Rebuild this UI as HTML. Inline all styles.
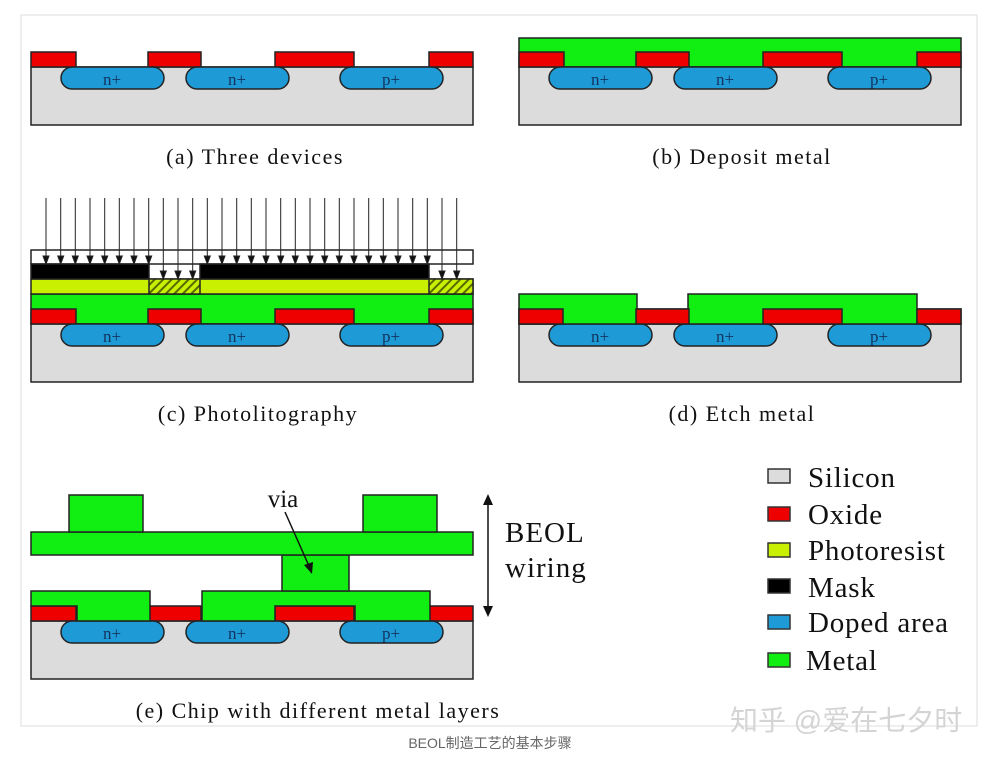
<!DOCTYPE html>
<html><head><meta charset="utf-8"><style>
html,body{margin:0;padding:0;background:#fff;}
svg{display:block;}
text{font-family:"Liberation Serif",serif;fill:#111;}
.cap{font-size:22px;letter-spacing:1.5px;}
</style></head><body>
<svg width="997" height="762" viewBox="0 0 997 762" xmlns="http://www.w3.org/2000/svg">
<defs>
<pattern id="h" width="6" height="6" patternUnits="userSpaceOnUse" patternTransform="rotate(45)">
<rect width="6" height="6" fill="#c8f000"/><rect width="2" height="6" fill="#556b00"/>
</pattern>
<g id="base" stroke="#222" stroke-width="1.5">
<rect x="31" y="67" width="442" height="58" fill="#dcdcdc"/>
<rect x="31" y="52" width="45" height="15" fill="#ee0000"/>
<rect x="148" y="52" width="53" height="15" fill="#ee0000"/>
<rect x="275" y="52" width="79" height="15" fill="#ee0000"/>
<rect x="429" y="52" width="44" height="15" fill="#ee0000"/>
<rect x="61" y="67" width="103" height="22" rx="11" fill="#1e9ad6"/>
<rect x="186" y="67" width="103" height="22" rx="11" fill="#1e9ad6"/>
<rect x="340" y="67" width="103" height="22" rx="11" fill="#1e9ad6"/>
<g stroke="none" font-size="17" text-anchor="middle">
<text x="112" y="85" style="fill:#14345e">n+</text>
<text x="237" y="85" style="fill:#14345e">n+</text>
<text x="391" y="85" style="fill:#14345e">p+</text>
</g>
</g>
</defs>
<rect x="21" y="15" width="956" height="711" fill="none" stroke="#ddd" stroke-width="1"/>

<use href="#base"/>
<text class="cap" x="255" y="164" text-anchor="middle">(a) Three devices</text>

<g transform="translate(488,0)">
<rect x="31" y="38" width="442" height="29" fill="#11ee11" stroke="#222" stroke-width="1.5"/>
<use href="#base"/>
</g>
<text class="cap" x="742" y="164" text-anchor="middle">(b) Deposit metal</text>

<g transform="translate(0,257)">
<rect x="31" y="37" width="442" height="30" fill="#11ee11" stroke="#222" stroke-width="1.5"/>
<use href="#base"/>
</g>
<g stroke="#222" stroke-width="1.5">
<rect x="31" y="279" width="442" height="15" fill="#c8f000"/>
<rect x="149" y="279" width="51" height="15" fill="url(#h)"/>
<rect x="429" y="279" width="44" height="15" fill="url(#h)"/>
<rect x="31" y="250" width="442" height="14" fill="#fff"/>
<rect x="31" y="264" width="118" height="15" fill="#000"/>
<rect x="200" y="264" width="229" height="15" fill="#000"/>
</g>
<text class="cap" x="258" y="421" text-anchor="middle">(c) Photolitography</text>

<g transform="translate(488,257)">
<use href="#base"/>
<rect x="31" y="37" width="118" height="30" fill="#11ee11" stroke="#222" stroke-width="1.5"/>
<rect x="200" y="37" width="229" height="30" fill="#11ee11" stroke="#222" stroke-width="1.5"/>
<rect x="31" y="52" width="44" height="15" fill="#ee0000" stroke="#222" stroke-width="1.5"/>
<rect x="148" y="52" width="53" height="15" fill="#ee0000" stroke="#222" stroke-width="1.5"/>
<rect x="275" y="52" width="79" height="15" fill="#ee0000" stroke="#222" stroke-width="1.5"/>
<rect x="429" y="52" width="44" height="15" fill="#ee0000" stroke="#222" stroke-width="1.5"/>
<rect x="76" y="51" width="71" height="15" fill="#11ee11"/>
<rect x="202" y="51" width="72" height="15" fill="#11ee11"/>
<rect x="355" y="51" width="73" height="15" fill="#11ee11"/>
</g>
<text class="cap" x="742" y="421" text-anchor="middle">(d) Etch metal</text>

<g transform="translate(0,554)">
<use href="#base"/>
</g>
<g stroke="#222" stroke-width="1.5" fill="#11ee11">
<path d="M31 591 H150 V621 H77 V606 H31 Z"/>
<path d="M202 591 H430 V621 H355 V606 H275 V621 H202 Z"/>
<rect x="282" y="555" width="67" height="36"/>
<rect x="31" y="532" width="442" height="23"/>
<rect x="69" y="495" width="74" height="37"/>
<rect x="363" y="495" width="74" height="37"/>
</g>
<text x="283" y="507" font-size="25" text-anchor="middle">via</text>
<line x1="285" y1="512" x2="309" y2="566" stroke="#111" stroke-width="1.5"/>
<polygon points="312,574 304,565 313,562" fill="#111"/>
<line x1="488" y1="500" x2="488" y2="610" stroke="#111" stroke-width="1.5"/>
<polygon points="488,494 483,505 493,505" fill="#111"/>
<polygon points="488,617 483,606 493,606" fill="#111"/>
<text x="505" y="542" font-size="29" letter-spacing="1">BEOL</text>
<text x="505" y="577" font-size="29" letter-spacing="1">wiring</text>
<text class="cap" x="318" y="718" text-anchor="middle">(e) Chip with different metal layers</text>

<g stroke="#333" stroke-width="1.5">
<rect x="768" y="469" width="22" height="14" fill="#dcdcdc"/>
<rect x="768" y="507" width="22" height="14" fill="#ee0000"/>
<rect x="768" y="543" width="22" height="14" fill="#c8f000"/>
<rect x="768" y="579" width="22" height="14" fill="#000"/>
<rect x="768" y="615" width="22" height="14" fill="#1e9ad6"/>
<rect x="768" y="653" width="22" height="14" fill="#11ee11"/>
</g>
<g font-size="29" letter-spacing="0.8">
<text x="808" y="487">Silicon</text>
<text x="808" y="524">Oxide</text>
<text x="808" y="560">Photoresist</text>
<text x="808" y="597">Mask</text>
<text x="808" y="632">Doped area</text>
<text x="806" y="670">Metal</text>
</g>
<text x="730" y="730" font-size="28" style="font-family:'Liberation Sans','Noto Sans CJK SC',sans-serif;fill:#d4d4d4">知乎 @爱在七夕时</text>
<text x="490" y="748" font-size="14" text-anchor="middle" style="font-family:'Liberation Sans','Noto Sans CJK SC',sans-serif;fill:#666">BEOL制造工艺的基本步骤</text>

<g stroke="#222" stroke-width="1" fill="#111">
<line x1="46" y1="198" x2="46" y2="256"/><polygon points="46,264 43,256 49,256"/>
<line x1="60.7" y1="198" x2="60.7" y2="256"/><polygon points="60.7,264 57.7,256 63.7,256"/>
<line x1="75.3" y1="198" x2="75.3" y2="256"/><polygon points="75.3,264 72.3,256 78.3,256"/>
<line x1="90" y1="198" x2="90" y2="256"/><polygon points="90,264 87,256 93,256"/>
<line x1="104.7" y1="198" x2="104.7" y2="256"/><polygon points="104.7,264 101.7,256 107.7,256"/>
<line x1="119.3" y1="198" x2="119.3" y2="256"/><polygon points="119.3,264 116.3,256 122.3,256"/>
<line x1="134" y1="198" x2="134" y2="256"/><polygon points="134,264 131,256 137,256"/>
<line x1="148.7" y1="198" x2="148.7" y2="256"/><polygon points="148.7,264 145.7,256 151.7,256"/>
<line x1="163.3" y1="198" x2="163.3" y2="271"/><polygon points="163.3,279 160.3,271 166.3,271"/>
<line x1="178" y1="198" x2="178" y2="271"/><polygon points="178,279 175,271 181,271"/>
<line x1="192.7" y1="198" x2="192.7" y2="271"/><polygon points="192.7,279 189.7,271 195.7,271"/>
<line x1="207.3" y1="198" x2="207.3" y2="256"/><polygon points="207.3,264 204.3,256 210.3,256"/>
<line x1="222" y1="198" x2="222" y2="256"/><polygon points="222,264 219,256 225,256"/>
<line x1="236.7" y1="198" x2="236.7" y2="256"/><polygon points="236.7,264 233.7,256 239.7,256"/>
<line x1="251.3" y1="198" x2="251.3" y2="256"/><polygon points="251.3,264 248.3,256 254.3,256"/>
<line x1="266" y1="198" x2="266" y2="256"/><polygon points="266,264 263,256 269,256"/>
<line x1="280.7" y1="198" x2="280.7" y2="256"/><polygon points="280.7,264 277.7,256 283.7,256"/>
<line x1="295.3" y1="198" x2="295.3" y2="256"/><polygon points="295.3,264 292.3,256 298.3,256"/>
<line x1="310" y1="198" x2="310" y2="256"/><polygon points="310,264 307,256 313,256"/>
<line x1="324.7" y1="198" x2="324.7" y2="256"/><polygon points="324.7,264 321.7,256 327.7,256"/>
<line x1="339.3" y1="198" x2="339.3" y2="256"/><polygon points="339.3,264 336.3,256 342.3,256"/>
<line x1="354" y1="198" x2="354" y2="256"/><polygon points="354,264 351,256 357,256"/>
<line x1="368.7" y1="198" x2="368.7" y2="256"/><polygon points="368.7,264 365.7,256 371.7,256"/>
<line x1="383.3" y1="198" x2="383.3" y2="256"/><polygon points="383.3,264 380.3,256 386.3,256"/>
<line x1="398" y1="198" x2="398" y2="256"/><polygon points="398,264 395,256 401,256"/>
<line x1="412.7" y1="198" x2="412.7" y2="256"/><polygon points="412.7,264 409.7,256 415.7,256"/>
<line x1="427.3" y1="198" x2="427.3" y2="256"/><polygon points="427.3,264 424.3,256 430.3,256"/>
<line x1="442" y1="198" x2="442" y2="271"/><polygon points="442,279 439,271 445,271"/>
<line x1="456.7" y1="198" x2="456.7" y2="271"/><polygon points="456.7,279 453.7,271 459.7,271"/>
</g>
</svg>
</body></html>
